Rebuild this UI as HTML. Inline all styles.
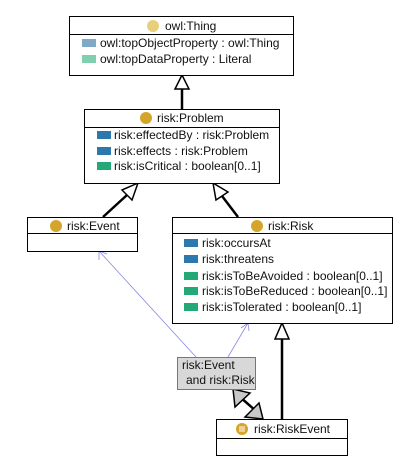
<!DOCTYPE html>
<html><head><meta charset="utf-8"><style>
html,body{margin:0;padding:0;background:#fff;}
svg text{font-family:"Liberation Sans",sans-serif;font-size:12px;fill:#111;}
</style></head><body>
<svg width="412" height="467" viewBox="0 0 412 467" xmlns="http://www.w3.org/2000/svg">
<rect width="412" height="467" fill="#fff"/>
<g stroke="#000" stroke-width="2.5" fill="none">
<line x1="182" y1="109" x2="182" y2="89"/>
<line x1="103" y1="217" x2="127" y2="195"/>
<line x1="238" y1="217" x2="222" y2="196"/>
<line x1="282" y1="419" x2="282" y2="339"/>
<line x1="240" y1="397" x2="256" y2="411"/>
</g>
<g stroke="#000" stroke-width="1.5" fill="#fff">
<polygon points="182,75 175,89 189,89"/>
<polygon points="138,183 122,190 132,200"/>
<polygon points="213,183 216,200 228,192"/>
<polygon points="282,323 275,339 289,339"/>
</g>
<g stroke="#000" stroke-width="1.5" fill="#c8c8c8">
<polygon points="233,389 235,407 250,393"/>
<polygon points="263,419 245,417 259,403"/>
</g>
<g stroke="#8a8ae0" stroke-width="0.8" fill="none">
<line x1="196" y1="357" x2="99" y2="251"/>
<polyline points="99,260 99,251 107,254"/>
<line x1="228" y1="357" x2="248" y2="323"/>
<polyline points="241,328 248,323 249,331"/>
</g>
<rect x="69.5" y="16.5" width="224" height="59" fill="#fff" stroke="#000"/>
<line x1="69" y1="34.5" x2="294" y2="34.5" stroke="#000"/>
<circle cx="153" cy="26" r="6" fill="#e8cf7c"/>
<text x="165" y="30">owl:Thing</text>
<rect x="82" y="39" width="14" height="8" fill="#7fa9c8"/>
<text x="100" y="47">owl:topObjectProperty : owl:Thing</text>
<rect x="82" y="55" width="14" height="8" fill="#80d0b0"/>
<text x="100" y="63">owl:topDataProperty : Literal</text>
<rect x="84.5" y="109.5" width="195" height="74" fill="#fff" stroke="#000"/>
<line x1="84" y1="127.5" x2="280" y2="127.5" stroke="#000"/>
<circle cx="146" cy="118" r="6" fill="#d4a52a"/>
<text x="157" y="122">risk:Problem</text>
<rect x="97" y="131" width="14" height="8" fill="#2e78b0"/>
<text x="114" y="139">risk:effectedBy : risk:Problem</text>
<rect x="97" y="147" width="14" height="8" fill="#2e78b0"/>
<text x="114" y="155">risk:effects : risk:Problem</text>
<rect x="97" y="162" width="14" height="8" fill="#25a878"/>
<text x="114" y="170">risk:isCritical : boolean[0..1]</text>
<rect x="27.5" y="217.5" width="110" height="34" fill="#fff" stroke="#000"/>
<line x1="27" y1="233.5" x2="138" y2="233.5" stroke="#000"/>
<circle cx="56" cy="226" r="6" fill="#d4a52a"/>
<text x="67" y="230">risk:Event</text>
<rect x="172.5" y="217.5" width="220" height="106" fill="#fff" stroke="#000"/>
<line x1="172" y1="233.5" x2="393" y2="233.5" stroke="#000"/>
<circle cx="257" cy="226" r="6" fill="#d4a52a"/>
<text x="268" y="230">risk:Risk</text>
<rect x="184" y="239" width="14" height="8" fill="#2e78b0"/>
<text x="202" y="247">risk:occursAt</text>
<rect x="184" y="255" width="14" height="8" fill="#2e78b0"/>
<text x="202" y="263">risk:threatens</text>
<rect x="184" y="272" width="14" height="8" fill="#25a878"/>
<text x="202" y="280">risk:isToBeAvoided : boolean[0..1]</text>
<rect x="184" y="287" width="14" height="8" fill="#25a878"/>
<text x="202" y="295">risk:isToBeReduced : boolean[0..1]</text>
<rect x="184" y="303" width="14" height="8" fill="#25a878"/>
<text x="202" y="311">risk:isTolerated : boolean[0..1]</text>
<rect x="177.5" y="357.5" width="78" height="32" fill="#d8d8d8" stroke="#777"/>
<text x="182" y="369">risk:Event</text>
<text x="186" y="384">and risk:Risk</text>
<rect x="216.5" y="419.5" width="131" height="36" fill="#fff" stroke="#000"/>
<line x1="216" y1="438.5" x2="348" y2="438.5" stroke="#000"/>
<circle cx="242" cy="429" r="6" fill="#d4a52a"/>
<line x1="239" y1="427" x2="245" y2="427" stroke="#fff" stroke-width="1"/>
<line x1="239" y1="429" x2="245" y2="429" stroke="#fff" stroke-width="1"/>
<line x1="239" y1="431" x2="245" y2="431" stroke="#fff" stroke-width="1"/>
<text x="254" y="433">risk:RiskEvent</text>
</svg>
</body></html>
